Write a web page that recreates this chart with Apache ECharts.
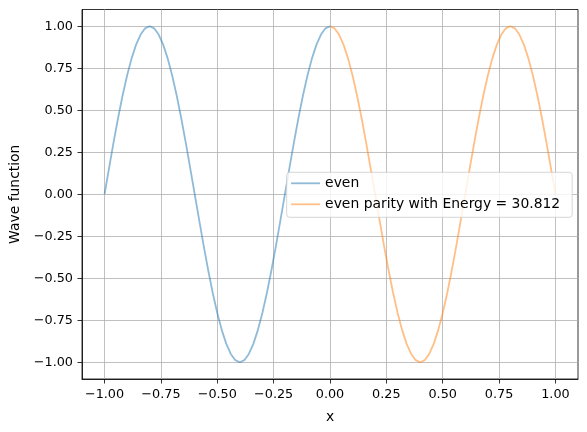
<!DOCTYPE html>
<html>
<head>
<meta charset="utf-8">
<script src="https://cdn.jsdelivr.net/npm/echarts@6/dist/echarts.min.js"></script>
<style>html,body{margin:0;padding:0;background:#fff;}#c{width:587px;height:432px;}</style>
</head>
<body>
<div id="c"></div>
<script>
// x samples for the left (even) branch
const xEven = [-1.00,-0.98,-0.96,-0.94,-0.92,-0.90,-0.88,-0.86,-0.84,-0.82,-0.80,-0.78,-0.76,-0.74,-0.72,-0.70,-0.68,-0.66,-0.64,-0.62,-0.60,-0.58,-0.56,-0.54,-0.52,-0.50,-0.48,-0.46,-0.44,-0.42,-0.40,-0.38,-0.36,-0.34,-0.32,-0.30,-0.28,-0.26,-0.24,-0.22,-0.20,-0.18,-0.16,-0.14,-0.12,-0.10,-0.08,-0.06,-0.04,-0.02,0.00];
const yEven = [0,0.156,0.309,0.454,0.588,0.707,0.809,0.891,0.951,0.988,1.000,0.988,0.951,0.891,0.809,0.707,0.588,0.454,0.309,0.156,0,-0.156,-0.309,-0.454,-0.588,-0.707,-0.809,-0.891,-0.951,-0.988,-1.000,-0.988,-0.951,-0.891,-0.809,-0.707,-0.588,-0.454,-0.309,-0.156,0,0.156,0.309,0.454,0.588,0.707,0.809,0.891,0.951,0.988,1.000];
// x samples for the right (even parity) branch
const xParity = [0.00,0.02,0.04,0.06,0.08,0.10,0.12,0.14,0.16,0.18,0.20,0.22,0.24,0.26,0.28,0.30,0.32,0.34,0.36,0.38,0.40,0.42,0.44,0.46,0.48,0.50,0.52,0.54,0.56,0.58,0.60,0.62,0.64,0.66,0.68,0.70,0.72,0.74,0.76,0.78,0.80,0.82,0.84,0.86,0.88,0.90,0.92,0.94,0.96,0.98,1.00];
const yParity = [1.000,0.988,0.951,0.891,0.809,0.707,0.588,0.454,0.309,0.156,0,-0.156,-0.309,-0.454,-0.588,-0.707,-0.809,-0.891,-0.951,-0.988,-1.000,-0.988,-0.951,-0.891,-0.809,-0.707,-0.588,-0.454,-0.309,-0.156,0,0.156,0.309,0.454,0.588,0.707,0.809,0.891,0.951,0.988,1.000,0.988,0.951,0.891,0.809,0.707,0.588,0.454,0.309,0.156,0];
const xTicks = [-1.00,-0.75,-0.50,-0.25,0.00,0.25,0.50,0.75,1.00];
const yTicks = [-1.00,-0.75,-0.50,-0.25,0.00,0.25,0.50,0.75,1.00];
const seriesNames = ['even','even parity with Energy = 30.812'];
const xLabel = 'x';
const yLabel = 'Wave function';

const FONT = 'DejaVu Sans';
const FS = 12.8;
const FS2 = 13.9;
const fmt = v => v.toFixed(2).replace('-', '\u2212');
const zip = (xs, ys) => xs.map((x, i) => [x, ys[i]]);

const chart = echarts.init(document.getElementById('c'), null, {renderer: 'canvas'});
const axisCommon = {
  type: 'value', min: -1.1, max: 1.1,
  axisLine: {show: true, onZero: false, lineStyle: {color: '#000', width: 0.8}},
  axisTick: {show: true, inside: false, length: 4.5, lineStyle: {color: '#000', width: 0.8}},
  splitLine: {show: true, lineStyle: {color: '#b0b0b0', width: 0.8}},
  axisLabel: {color: '#000', fontFamily: FONT, fontSize: FS, margin: 9, formatter: fmt},
  nameLocation: 'middle',
  nameTextStyle: {color: '#000', fontFamily: FONT, fontSize: FS2}
};
chart.setOption({
  animation: false,
  backgroundColor: '#fff',
  grid: {left: 82, right: 9, top: 9.5, bottom: 53, show: true, borderColor: '#000', borderWidth: 0.8, backgroundColor: 'transparent'},
  xAxis: Object.assign({}, axisCommon, {
    name: xLabel, nameGap: 31,
    axisTick: Object.assign({}, axisCommon.axisTick, {customValues: xTicks}),
    axisLabel: Object.assign({}, axisCommon.axisLabel, {customValues: xTicks})
  }),
  yAxis: Object.assign({}, axisCommon, {
    name: yLabel, nameGap: 58,
    axisTick: Object.assign({}, axisCommon.axisTick, {customValues: yTicks}),
    axisLabel: Object.assign({}, axisCommon.axisLabel, {customValues: yTicks})
  }),
  legend: {
    orient: 'vertical', left: 286.7, top: 172.3,
    padding: [3, 12, 5, 3.5],
    itemWidth: 29, itemHeight: 16, itemGap: 5, itemTextGap: 11,
    itemStyle: {opacity: 0},
    lineStyle: {width: 1.8},
    backgroundColor: 'rgba(255,255,255,0.8)', borderColor: '#cccccc', borderWidth: 0.8, borderRadius: 3,
    textStyle: {color: '#000', fontFamily: FONT, fontSize: FS2, lineHeight: 16},
    data: seriesNames
  },
  series: [
    {name: seriesNames[0], type: 'line', data: zip(xEven, yEven), symbol: 'none', showSymbol: false,
     color: 'rgba(31,119,180,0.5)', lineStyle: {color: 'rgba(31,119,180,0.5)', width: 1.8}},
    {name: seriesNames[1], type: 'line', data: zip(xParity, yParity), symbol: 'none', showSymbol: false,
     color: 'rgba(255,127,14,0.5)', lineStyle: {color: 'rgba(255,127,14,0.5)', width: 1.8}}
  ]
});
</script>
</body>
</html>
